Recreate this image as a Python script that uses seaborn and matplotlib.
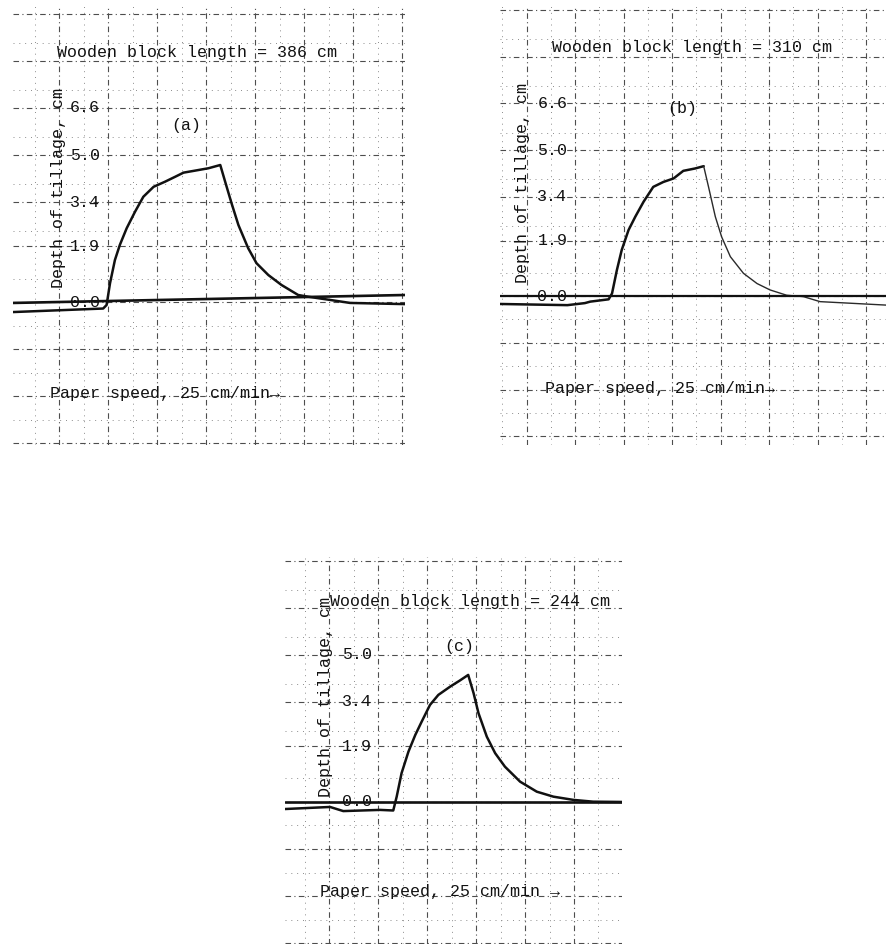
import numpy as np
import pandas as pd
import matplotlib
matplotlib.use("Agg")
import matplotlib.pyplot as plt
import seaborn as sns

# ---------------- data (x in chart divisions, y = depth of tillage, cm) ----------------
a_time = [-1.94, -0.1, -0.03, 0.04, 0.14, 0.24, 0.38, 0.55, 0.72, 0.93, 1.16, 1.37, 1.54,
          1.78, 2.05, 2.29, 2.39, 2.52, 2.66, 2.86, 3.03, 3.27, 3.54, 3.88, 4.09, 4.5,
          4.94, 6.06]
a_depth = [-0.34, -0.22, -0.1, 0.64, 1.43, 1.94, 2.51, 3.07, 3.58, 3.92, 4.09, 4.26, 4.40,
           4.47, 4.55, 4.66, 4.09, 3.36, 2.62, 1.83, 1.32, 0.92, 0.58, 0.24, 0.18, 0.08,
           -0.03, -0.07]
a_ref_time = [-1.94, 6.06]
a_ref_depth = [-0.03, 0.24]

b_time = [-1.55, -0.16, 0.2, 0.31, 0.69, 0.76, 0.86, 0.96, 1.10, 1.24, 1.41, 1.61, 1.82,
          2.03, 2.23, 2.47, 2.65, 2.75, 2.89, 3.02, 3.2, 3.47, 3.75, 4.02, 4.36, 4.71,
          5.05, 6.43]
b_depth = [-0.27, -0.31, -0.24, -0.19, -0.11, 0.09, 0.89, 1.58, 2.26, 2.72, 3.23, 3.74, 3.91,
           4.03, 4.29, 4.37, 4.45, 3.74, 2.72, 2.03, 1.35, 0.78, 0.43, 0.21, 0.03, -0.02,
           -0.19, -0.31]
b_peak_index = 16
b_ref_time = [-1.55, 6.43]
b_ref_depth = [0.0, 0.0]

c_time = [-1.9, -0.98, -0.71, 0.04, 0.31, 0.38, 0.48, 0.62, 0.76, 0.89, 1.06, 1.23, 1.47,
          1.67, 1.84, 1.95, 2.05, 2.22, 2.39, 2.59, 2.9, 3.24, 3.58, 3.99, 4.39, 4.98]
c_depth = [-0.24, -0.17, -0.31, -0.27, -0.29, 0.18, 0.98, 1.71, 2.28, 2.73, 3.3, 3.64, 3.92,
           4.13, 4.32, 3.70, 3.02, 2.22, 1.66, 1.2, 0.69, 0.35, 0.18, 0.07, 0.01, 0.0]
c_ref_time = [-1.9, 4.98]
c_ref_depth = [0.0, 0.0]

tick_values_ab = [6.6, 5.0, 3.4, 1.9, 0.0]
tick_labels_ab = ["6.6", "5.0", "3.4", "1.9", "0.0"]
tick_values_c = [5.0, 3.4, 1.9, 0.0]
tick_labels_c = ["5.0", "3.4", "1.9", "0.0"]

titles = ["Wooden block length = 386 cm", "Wooden block length = 310 cm",
          "Wooden block length = 244 cm"]
panel_tags = ["(a)", "(b)", "(c)"]
xlabels = ["Paper speed, 25 cm/min\u2192", "Paper speed, 25 cm/min\u2192",
           "Paper speed, 25 cm/min \u2192"]
ylabel = "Depth of tillage, cm"

# ---------------- style ----------------
sns.set_style("white")
plt.rcParams['font.family'] = ['Liberation Mono', 'DejaVu Sans Mono', 'DejaVu Sans']
INK = "#111111"

fig = plt.figure(figsize=(8.87, 9.44), dpi=100)
W, H = 887, 944


def add_axes(px_left, px_right, px_top, px_bottom):
    return fig.add_axes([px_left / W, 1 - px_bottom / H,
                         (px_right - px_left) / W, (px_bottom - px_top) / H])


def style_axes(ax, xlim, ylim):
    ax.set_xlim(*xlim)
    ax.set_ylim(*ylim)
    for s in ax.spines.values():
        s.set_visible(False)
    ax.set_xticks(np.arange(np.ceil(xlim[0]), xlim[1] + 0.01, 1.0))
    ax.set_xticks(np.arange(np.ceil(xlim[0] * 2) / 2, xlim[1], 0.5), minor=True)
    yt = [-4.8, -3.2, -1.6, 0.0, 1.9, 3.4, 5.0, 6.6, 8.2, 9.8]
    ax.set_yticks([v for v in yt if ylim[0] < v < ylim[1]])
    ax.set_yticks([v for v in np.arange(-4.0, 10.0, 1.6) if ylim[0] < v < ylim[1]], minor=True)
    ax.tick_params(which="both", length=0, labelbottom=False, labelleft=False)
    ax.grid(True, which="major", color="0.3", lw=0.8, ls=(0, (5, 3, 1, 3)))
    ax.grid(True, which="minor", color="0.55", lw=0.7, ls=(0, (1, 5)))
    ax.set_xlabel("")
    ax.set_ylabel("")


def draw_panel(ax, t, d, rt, rd, ticks_v, ticks_l, label_x, ylab_pos, title, title_pos,
               tag, tag_pos, xlab, xlab_pos, ref_lw, thin_tail=None):
    if thin_tail is None:
        sns.lineplot(x=t, y=d, ax=ax, color=INK, lw=1.8, sort=False, estimator=None)
    else:
        sns.lineplot(x=t[:thin_tail + 1], y=d[:thin_tail + 1], ax=ax, color=INK, lw=1.8,
                     sort=False, estimator=None)
        sns.lineplot(x=t[thin_tail:], y=d[thin_tail:], ax=ax, color="#2a2a2a", lw=1.0,
                     sort=False, estimator=None)
    sns.lineplot(x=rt, y=rd, ax=ax, color=INK, lw=ref_lw, sort=False, estimator=None)
    for v, l in zip(ticks_v, ticks_l):
        ax.text(label_x, v, l, ha="right", va="center", fontsize=12, color=INK)
    ax.text(ylab_pos[0], ylab_pos[1], ylabel, rotation=90, ha="center", va="center",
            fontsize=12, color=INK)
    ax.text(title_pos[0], title_pos[1], title, ha="left", va="center", fontsize=12,
            color=INK, clip_on=True)
    ax.text(tag_pos[0], tag_pos[1], tag, ha="center", va="center", fontsize=12, color=INK)
    ax.text(xlab_pos[0], xlab_pos[1], xlab, ha="left", va="center", fontsize=12, color=INK)


# panel (a)
ax_a = add_axes(13, 405, 5, 445)
style_axes(ax_a, (-1.94, 6.06), (-4.86, 10.1))
draw_panel(ax_a, a_time, a_depth, a_ref_time, a_ref_depth, tick_values_ab, tick_labels_ab,
           -0.16, (-1.02, 3.88), titles[0], (-1.04, 8.47), panel_tags[0], (1.6, 6.0),
           xlabels[0], (-1.18, -3.1), ref_lw=1.9)

# panel (b)
ax_b = add_axes(500, 887, 5, 445)
style_axes(ax_b, (-1.55, 6.43), (-5.1, 9.97))
draw_panel(ax_b, b_time, b_depth, b_ref_time, b_ref_depth, tick_values_ab, tick_labels_ab,
           -0.16, (-1.09, 3.87), titles[1], (-0.47, 8.53), panel_tags[1], (2.2, 6.44),
           xlabels[1], (-0.62, -3.15), ref_lw=1.6, thin_tail=b_peak_index)

# panel (c)
ax_c = add_axes(285, 622, 557, 944)
style_axes(ax_c, (-1.9, 4.98), (-4.83, 8.33))
draw_panel(ax_c, c_time, c_depth, c_ref_time, c_ref_depth, tick_values_c, tick_labels_c,
           -0.12, (-1.08, 3.57), titles[2], (-0.98, 6.8), panel_tags[2], (1.65, 5.27),
           xlabels[2], (-1.18, -3.06), ref_lw=1.9)

fig.savefig("out.png", dpi=100, facecolor="white")
